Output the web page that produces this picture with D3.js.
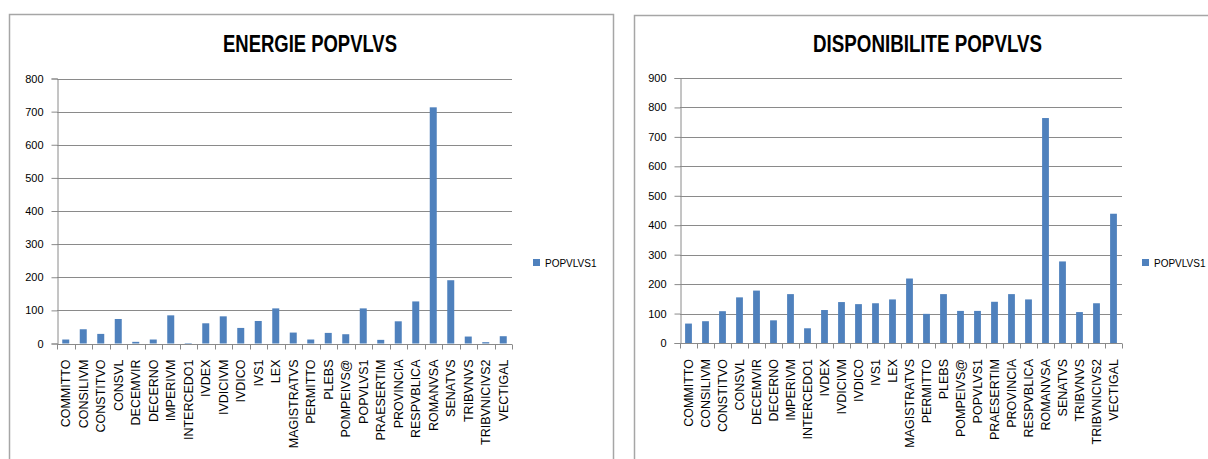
<!DOCTYPE html>
<html>
<head>
<meta charset="utf-8">
<script src="https://cdn.jsdelivr.net/npm/d3@7"></script>
<style>
  html, body { margin: 0; padding: 0; background: #ffffff; }
  svg { display: block; }
</style>
</head>
<body>
<svg id="chart" width="1208" height="459"></svg>
<script>
// Word list shared by both panels
const categories = [
  "COMMITTO", "CONSILIVM", "CONSTITVO", "CONSVL", "DECEMVIR", "DECERNO",
  "IMPERIVM", "INTERCEDO1", "IVDEX", "IVDICIVM", "IVDICO", "IVS1", "LEX",
  "MAGISTRATVS", "PERMITTO", "PLEBS", "POMPEIVS@", "POPVLVS1", "PRAESERTIM",
  "PROVINCIA", "RESPVBLICA", "ROMANVSA", "SENATVS", "TRIBVNVS",
  "TRIBVNICIVS2", "VECTIGAL"
];

// ENERGIE POPVLVS values
const energieValues = [
  12, 43, 29, 74, 5, 12, 85, -3, 61, 82, 47, 68, 106,
  33, 12, 32, 28, 106, 11, 67, 127, 713, 191, 21, 4, 22
];

// DISPONIBILITE POPVLVS values
const disponibiliteValues = [
  66, 74, 108, 155, 178, 77, 166, 50, 112, 139, 132, 135, 148,
  219, 99, 166, 109, 109, 140, 166, 148, 764, 277, 105, 135, 439
];

const energieTicks = [0, 100, 200, 300, 400, 500, 600, 700, 800];
const disponibiliteTicks = [0, 100, 200, 300, 400, 500, 600, 700, 800, 900];

const seriesName = "POPVLVS1";
const titles = ["ENERGIE POPVLVS", "DISPONIBILITE POPVLVS"];

const BAR = "#4f81bd";
const GRID = "#8a8a8a";
const FRAME = "#a6a6a6";
const LABEL_FONT = "'Liberation Sans', Arial, sans-serif";
const TITLE_FONT = "'Liberation Sans Narrow', 'Arial Narrow', 'Liberation Sans', sans-serif";

const svg = d3.select("#chart");

const panels = [
  {
    title: titles[0], values: energieValues, ticks: energieTicks,
    frame: { x: 9.5, y: 14.5, w: 604, h: 460 },
    plot: { left: 57, right: 512, top: 78.5, bottom: 343.5 },
    titleX: 310, titleY: 52, titleW: 174,
    legend: { x: 533, y: 259 }
  },
  {
    title: titles[1], values: disponibiliteValues, ticks: disponibiliteTicks,
    frame: { x: 634.5, y: 15.5, w: 600, h: 460 },
    plot: { left: 680, right: 1122, top: 78, bottom: 343 },
    titleX: 927.5, titleY: 52, titleW: 229,
    legend: { x: 1142, y: 259 }
  }
];

panels.forEach(p => {
  const g = svg.append("g");

  // chart frame
  g.append("rect")
    .attr("x", p.frame.x).attr("y", p.frame.y)
    .attr("width", p.frame.w).attr("height", p.frame.h)
    .attr("fill", "#ffffff").attr("stroke", FRAME).attr("stroke-width", 1.5);

  // title
  g.append("text")
    .attr("x", p.titleX).attr("y", p.titleY)
    .attr("text-anchor", "middle")
    .attr("font-family", TITLE_FONT)
    .attr("font-weight", "bold")
    .attr("font-size", 23)
    .attr("textLength", p.titleW)
    .attr("lengthAdjust", "spacingAndGlyphs")
    .attr("fill", "#000")
    .text(p.title);

  const x = d3.scaleBand()
    .domain(categories)
    .range([p.plot.left, p.plot.right])
    .paddingInner(0.6)
    .paddingOuter(0.3);

  const yMax = p.ticks[p.ticks.length - 1];
  const y = d3.scaleLinear()
    .domain([0, yMax])
    .range([p.plot.bottom, p.plot.top]);

  // horizontal gridlines
  g.append("g")
    .selectAll("line")
    .data(p.ticks.filter(t => t > 0))
    .join("line")
    .attr("x1", p.plot.left).attr("x2", p.plot.right)
    .attr("y1", d => Math.round(y(d)) + 0.5).attr("y2", d => Math.round(y(d)) + 0.5)
    .attr("stroke", GRID).attr("stroke-width", 1.2);

  // y axis
  const yAxis = g.append("g")
    .attr("transform", `translate(${p.plot.left + 0.5},0)`)
    .call(d3.axisLeft(y).tickValues(p.ticks).tickSize(6).tickPadding(8)
      .tickFormat(d3.format("d")));
  yAxis.select(".domain").attr("stroke", GRID);
  yAxis.selectAll(".tick line").attr("stroke", GRID);
  yAxis.selectAll(".tick text")
    .attr("font-family", LABEL_FONT).attr("font-size", 11).attr("fill", "#000");

  // bars
  g.append("g")
    .selectAll("rect")
    .data(p.values.map((v, i) => ({ name: categories[i], value: v })))
    .join("rect")
    .attr("x", d => x(d.name))
    .attr("width", x.bandwidth())
    .attr("y", d => y(Math.max(0, d.value)))
    .attr("height", d => Math.abs(y(d.value) - y(0)))
    .attr("fill", BAR);

  // category axis: tick marks at band boundaries
  const x0 = p.plot.left;
  const bounds = d3.range(categories.length + 1).map(i => x0 + i * (p.plot.right - x0) / categories.length);
  const xAxisG = g.append("g");
  xAxisG.append("line")
    .attr("x1", p.plot.left).attr("x2", p.plot.right)
    .attr("y1", Math.round(y(0)) + 0.5).attr("y2", Math.round(y(0)) + 0.5)
    .attr("stroke", GRID);
  xAxisG.selectAll("line.tk")
    .data(bounds)
    .join("line")
    .attr("class", "tk")
    .attr("x1", d => Math.round(d) + 0.5).attr("x2", d => Math.round(d) + 0.5)
    .attr("y1", Math.round(y(0)) + 0.5).attr("y2", Math.round(y(0)) + 5.5)
    .attr("stroke", GRID);

  // rotated category labels
  xAxisG.selectAll("text")
    .data(categories)
    .join("text")
    .attr("transform", d => `translate(${x(d) + x.bandwidth() / 2 + 4.5},${y(0) + 16}) rotate(-90)`)
    .attr("text-anchor", "end")
    .attr("font-family", LABEL_FONT)
    .attr("font-size", 12.5)
    .attr("fill", "#000")
    .text(d => d);

  // legend
  g.append("rect")
    .attr("x", p.legend.x).attr("y", p.legend.y)
    .attr("width", 7).attr("height", 7)
    .attr("fill", BAR);
  g.append("text")
    .attr("x", p.legend.x + 12).attr("y", p.legend.y + 7.5)
    .attr("font-family", LABEL_FONT)
    .attr("font-size", 10)
    .attr("fill", "#000")
    .text(seriesName);
});
</script>
</body>
</html>
